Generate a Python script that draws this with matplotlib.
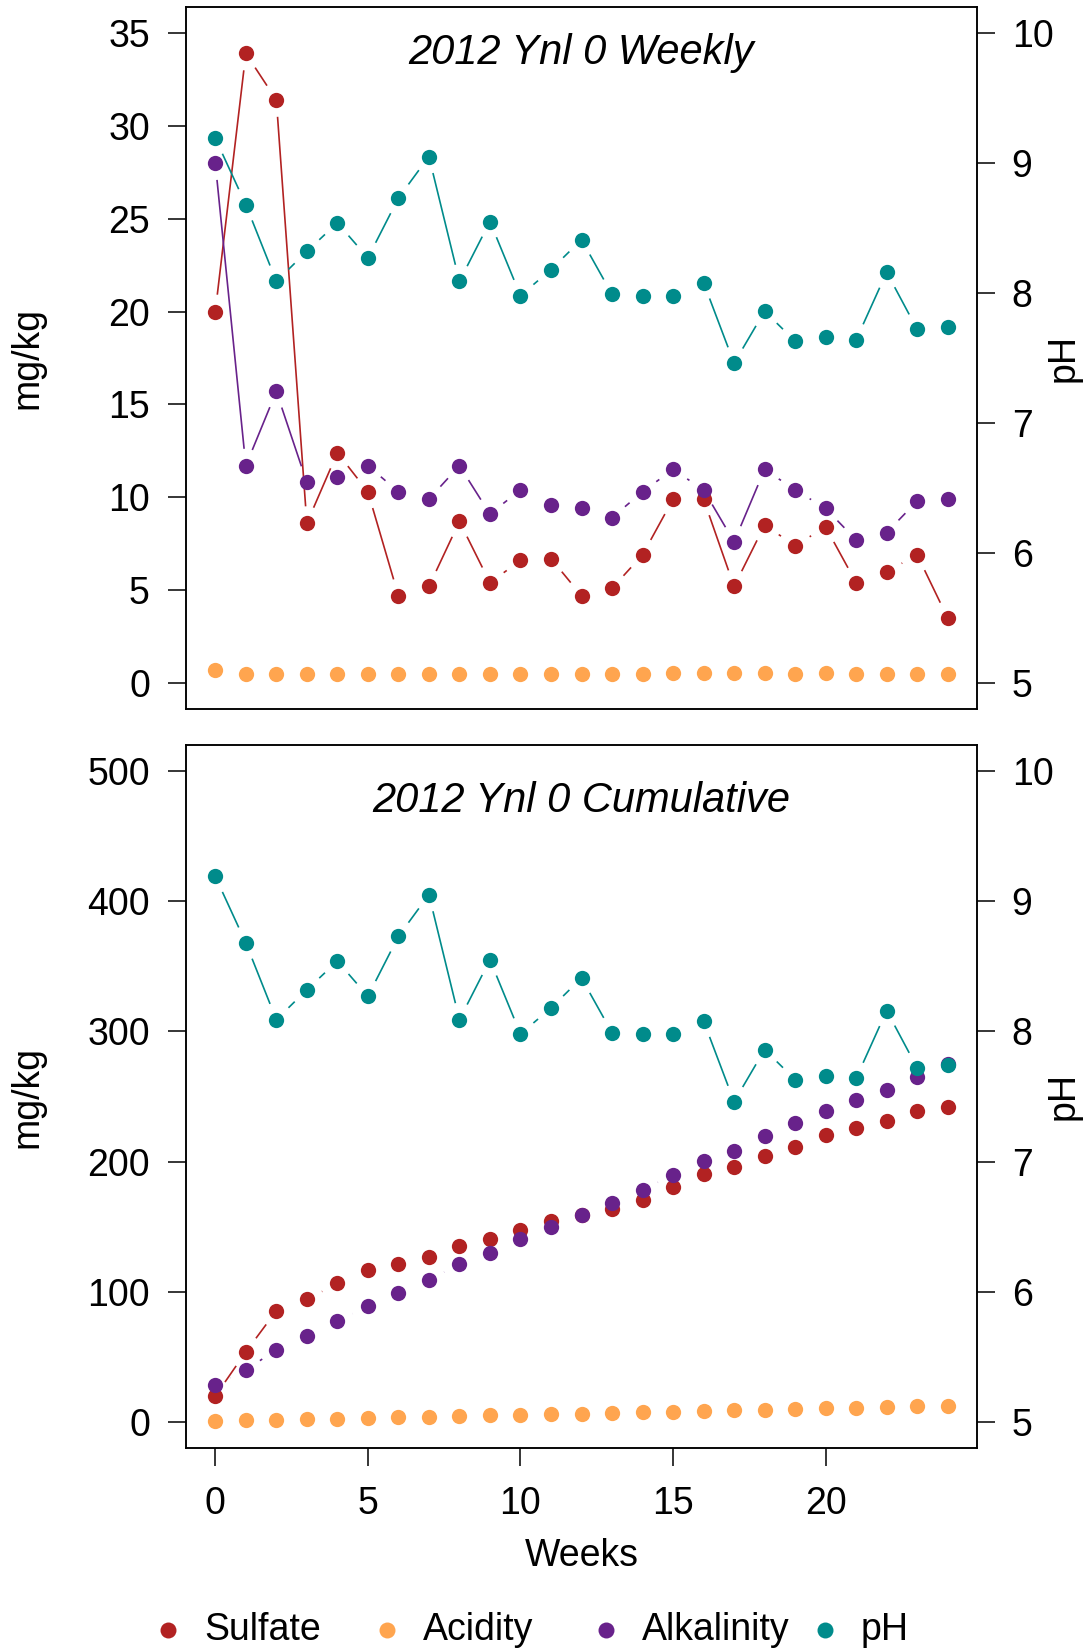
import numpy as np
import matplotlib
matplotlib.use('Agg')
import matplotlib.pyplot as plt

plt.rcParams['font.family'] = ['Liberation Sans', 'DejaVu Sans']

# ---------------- data ----------------
weeks = list(range(25))

sulfate_wk = [20.0, 33.9, 31.4, 8.6, 12.4, 10.3, 4.7, 5.2, 8.7, 5.4, 6.6, 6.7, 4.7,
              5.1, 6.9, 9.9, 9.9, 5.2, 8.5, 7.4, 8.4, 5.4, 6.0, 6.9, 3.5]
acidity_wk = [0.69, 0.46, 0.51, 0.46, 0.49, 0.49, 0.46, 0.46, 0.51, 0.47, 0.51, 0.51, 0.51,
              0.49, 0.51, 0.53, 0.53, 0.53, 0.53, 0.51, 0.53, 0.49, 0.46, 0.51, 0.51]
alkalinity_wk = [28.0, 11.7, 15.7, 10.8, 11.1, 11.7, 10.3, 9.9, 11.7, 9.1, 10.4, 9.6, 9.4,
                 8.9, 10.3, 11.5, 10.4, 7.6, 11.5, 10.4, 9.4, 7.7, 8.1, 9.8, 9.9]
ph = [9.19, 8.68, 8.09, 8.32, 8.54, 8.27, 8.73, 9.05, 8.09, 8.55, 7.98, 8.18, 8.41,
      7.99, 7.98, 7.98, 8.08, 7.46, 7.86, 7.63, 7.66, 7.64, 8.16, 7.72, 7.74]

sulfate_cum = [19.9, 53.8, 85.4, 94.1, 106.4, 116.7, 121.6, 126.7, 135.4, 140.8, 147.4, 154.3, 158.8,
               163.5, 170.5, 180.5, 190.5, 195.7, 204.1, 211.5, 220.3, 225.7, 231.5, 238.5, 241.8]
acidity_cum = [0.8, 1.2, 1.7, 2.1, 2.6, 3.1, 3.5, 4.0, 4.5, 5.0, 5.5, 6.0, 6.5,
               7.0, 7.5, 8.0, 8.5, 9.0, 9.5, 10.0, 10.5, 11.0, 11.5, 12.0, 12.5]
alkalinity_cum = [28.1, 39.8, 55.6, 66.2, 77.4, 89.0, 99.2, 109.2, 121.0, 130.0, 140.4, 149.8, 159.1,
                  168.0, 178.2, 190.0, 200.3, 208.0, 219.5, 229.8, 239.0, 247.0, 255.0, 264.8, 274.6]

labels = ['Sulfate', 'Acidity', 'Alkalinity', 'pH']
colors = ['#B22222', '#FFA54F', '#68228B', '#008B8B']

FS = 27
W, H = 1088, 1652
GAP = 17  # px kept free round each point (R type="b")


def gapped(ax, x, y, color):
    # lines of an R type="b" plot: segments stop short of the points
    pts = ax.transData.transform(np.column_stack([x, y]))
    inv = ax.transData.inverted()
    for i in range(len(pts) - 1):
        p0, p1 = pts[i], pts[i + 1]
        d = p1 - p0
        L = np.hypot(d[0], d[1])
        if L <= 2 * GAP:
            continue
        u = d / L
        a = inv.transform(p0 + u * GAP)
        b = inv.transform(p1 - u * GAP)
        ax.plot([a[0], b[0]], [a[1], b[1]], color=color, lw=1.2, solid_capstyle='butt')
    ax.plot(x, y, 'o', color=color, ms=11, mec='none')


def panel(top_px, bot_px, ymax, series, title, title_off, show_x):
    h = bot_px - top_px
    ax = fig.add_axes([186 / W, (H - bot_px) / H, 791 / W, h / H])
    ax.set_xlim(-0.96, 24.96)
    ax.set_ylim(-0.04 * ymax, 1.04 * ymax)
    ax2 = ax.twinx()
    ax2.set_ylim(4.8, 10.2)
    for a in (ax, ax2):
        for s in a.spines.values():
            s.set_linewidth(1.1)
    for vals, c in zip(series, colors[:3]):
        gapped(ax, weeks, vals, c)
    gapped(ax2, weeks, ph, colors[3])

    ax.set_yticks(np.linspace(0, ymax, 8 if ymax == 35 else 6))
    ax.tick_params(axis='y', direction='out', length=13, width=1.1, pad=13, labelsize=FS)
    ax2.set_yticks([5, 6, 7, 8, 9, 10])
    ax2.tick_params(axis='y', direction='out', length=13, width=1.1, pad=12, labelsize=FS)
    if show_x:
        ax.set_xticks([0, 5, 10, 15, 20])
        ax.tick_params(axis='x', direction='out', length=13, width=1.1, pad=14, labelsize=FS)
        ax.set_xlabel('Weeks', fontsize=FS, labelpad=12)
    else:
        ax.set_xticks([])
    ax.set_ylabel('mg/kg', fontsize=FS)
    ax.yaxis.set_label_coords((45 - 186) / 791, 1 - (358 - 7) / 702)
    ax2.set_ylabel('pH', fontsize=FS, rotation=90)
    ax2.yaxis.set_label_coords((1046 - 186) / 791, 1 - (358 - 7) / 702)
    ax.text(0.5, 1 - title_off / h, title, transform=ax.transAxes,
            ha='center', va='center', fontsize=30, style='italic')
    return ax


fig = plt.figure(figsize=(W / 100, H / 100), dpi=100)

panel(7, 709, 35, [sulfate_wk, acidity_wk, alkalinity_wk], '2012 Ynl 0 Weekly', 46, False)
panel(745, 1448, 500, [sulfate_cum, acidity_cum, alkalinity_cum], '2012 Ynl 0 Cumulative', 56, True)

# legend row along the bottom, R style: equal-width entries
lg = fig.add_axes([0, 0, 1, 1])
lg.set_xlim(0, W)
lg.set_ylim(H, 0)
lg.axis('off')
for i, (lab, c) in enumerate(zip(labels, colors)):
    x0 = 168 + 219 * i
    lg.plot([x0], [1630], 'o', color=c, ms=11.5, mec='none')
    lg.text(x0 + 36, 1630, lab, fontsize=FS, ha='left', va='center')

fig.savefig('out.png', dpi=100)
